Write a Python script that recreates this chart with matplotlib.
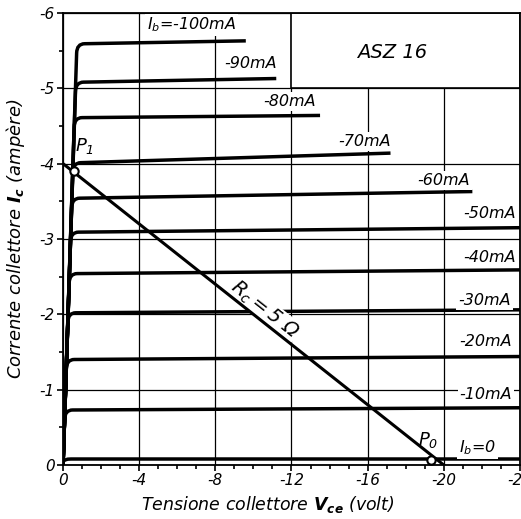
import math
import matplotlib
matplotlib.use('Agg')
import matplotlib.pyplot as plt
from matplotlib.path import Path
from matplotlib.patches import PathPatch, Rectangle
from matplotlib.ticker import MultipleLocator

plt.rcParams['font.family'] = 'DejaVu Sans'
plt.rcParams['font.style'] = 'oblique'
plt.rcParams['axes.unicode_minus'] = False
plt.rcParams['mathtext.fontset'] = 'custom'
plt.rcParams['mathtext.rm'] = 'DejaVu Sans:oblique'
plt.rcParams['mathtext.it'] = 'DejaVu Sans:oblique'
plt.rcParams['mathtext.bf'] = 'DejaVu Sans:bold:oblique'

# curve readings: base current, knee and end of each Ic(Vce) curve
ib_labels = [r'$I_b$=-100mA', '-90mA', '-80mA', '-70mA', '-60mA', '-50mA',
             '-40mA', '-30mA', '-20mA', '-10mA', r'$I_b$=0']
vce_knee = [-0.73, -0.67, -0.60, -0.53, -0.47, -0.41, -0.34, -0.27, -0.19, -0.10, -0.02]
ic_knee = [-5.59, -5.08, -4.61, -4.01, -3.54, -3.09, -2.54, -2.02, -1.40, -0.73, -0.08]
vce_end = [-9.6, -11.2, -13.5, -17.2, -21.5, -24, -24, -24, -24, -24, -24]
ic_end = [-5.63, -5.13, -4.64, -4.14, -3.63, -3.15, -2.59, -2.06, -1.44, -0.76, -0.08]

# label placement for the curves
lab_v = [-4.4, -11.25, -13.3, -17.2, -21.35, -23.8, -23.8, -23.5, -23.6, -23.6, -20.8]
lab_i = [-5.84, -5.33, -4.82, -4.29, -3.78, -3.34, -2.76, -2.19, -1.64, -0.93, -0.23]

# load line Rc = 5 ohm, Vcc = -20 V
load_v = [0, -20]
load_i = [-4, 0]

# working points
pt_names = [r'$P_1$', r'$P_0$']
pt_v = [-0.58, -19.35]
pt_i = [-3.90, -0.07]

fig = plt.figure(figsize=(5.21, 5.19), dpi=100)
ax = fig.add_axes([0.121, 0.104, 0.877, 0.871])
ax.set_xlim(0, -24)
ax.set_ylim(0, -6)

ax.xaxis.set_minor_locator(MultipleLocator(1))
ax.yaxis.set_minor_locator(MultipleLocator(0.5))
ax.set_xticks([0, -4, -8, -12, -16, -20, -24])
ax.set_xticklabels(['0', '-4', '-8', '-12', '-16', '-20', '-24'])
ax.set_yticks([0, -1, -2, -3, -4, -5, -6])
ax.set_yticklabels(['0', '-1', '-2', '-3', '-4', '-5', '-6'])
ax.tick_params(which='both', direction='out', width=1.2, labelsize=11, pad=2)
ax.tick_params(which='major', length=4)
ax.tick_params(which='minor', length=3)
ax.grid(True, which='major', color='black', lw=0.9)
ax.set_axisbelow(True)
for s in ax.spines.values():
    s.set_linewidth(1.3)

# curves with a rounded knee
for i in range(len(ib_labels)):
    vk, ik = vce_knee[i], ic_knee[i]
    d = min(0.12, 0.5 * abs(ik))
    a = (vk * (1 - d / abs(ik)), ik + d)
    b = (vk - 0.4, ik + (ic_end[i] - ik) * 0.4 / abs(vce_end[i] - vk))
    verts = [(0, 0), a, (vk, ik), b, (vce_end[i], ic_end[i])]
    codes = [Path.MOVETO, Path.LINETO, Path.CURVE3, Path.CURVE3, Path.LINETO]
    ax.add_patch(PathPatch(Path(verts, codes), fill=False, lw=2.5,
                           edgecolor='black', capstyle='butt', zorder=2.5))
    ha = 'left' if i in (0, len(ib_labels) - 1) else 'right'
    ax.text(lab_v[i], lab_i[i], ib_labels[i], ha=ha, va='center', fontsize=11.5,
            bbox=dict(facecolor='white', edgecolor='none', pad=1.5), zorder=3)

# type box
ax.add_patch(Rectangle((-12, -5), -12, -1, facecolor='white', edgecolor='black',
                       lw=1.2, zorder=1.5))
ax.text(-17.3, -5.48, 'ASZ 16', ha='center', va='center', fontsize=14, zorder=3)

# load line and its label
ax.plot(load_v, load_i, color='black', lw=2.2, zorder=5)
p1 = ax.transData.transform((load_v[0], load_i[0]))
p2 = ax.transData.transform((load_v[1], load_i[1]))
ang = math.degrees(math.atan2(p2[1] - p1[1], p2[0] - p1[0]))
ax.text(-10.6, -2.06, r'$R_c = 5\ \Omega$', rotation=ang, ha='center', va='center',
        fontsize=14, bbox=dict(facecolor='white', edgecolor='none', pad=0.5),
        zorder=4, rotation_mode='anchor')

ax.plot(pt_v, pt_i, 'o', ms=6, mfc='white', mec='black', mew=1.5, zorder=6)
ax.text(-1.15, -4.24, pt_names[0], ha='center', va='center', fontsize=13, zorder=6)
ax.text(-19.2, -0.33, pt_names[1], ha='center', va='center', fontsize=13, zorder=6)

fig.text(16 / 521, 0.54, r'Corrente collettore $\mathbf{I_c}$ (ampère)',
         rotation=90, ha='center', va='center', fontsize=13)
fig.text(0.514, 0.027, r'Tensione collettore $\mathbf{V_{ce}}$ (volt)',
         ha='center', va='center', fontsize=12.5)

fig.savefig('out.png', dpi=100)
